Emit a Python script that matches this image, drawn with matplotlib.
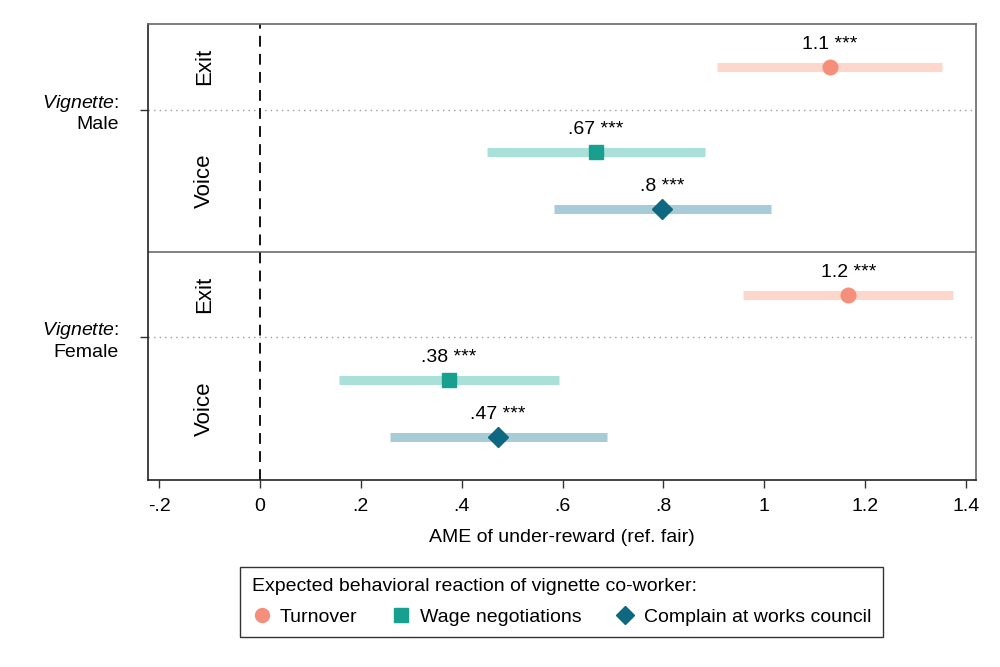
import matplotlib
matplotlib.use("Agg")
import matplotlib.pyplot as plt
from matplotlib.lines import Line2D

plt.rcParams['font.family'] = ['Liberation Sans', 'DejaVu Sans']
plt.rcParams['mathtext.fontset'] = 'custom'
plt.rcParams['mathtext.rm'] = 'Liberation Sans'
plt.rcParams['mathtext.it'] = 'Liberation Sans:italic'

# ---- data ----
groups = ["Male", "Female"]
series = ["Turnover", "Wage negotiations", "Complain at works council"]
est_male = [1.13, 0.666, 0.798]
lo_male = [0.906, 0.451, 0.584]
hi_male = [1.353, 0.882, 1.014]
est_female = [1.167, 0.375, 0.472]
lo_female = [0.958, 0.157, 0.258]
hi_female = [1.375, 0.593, 0.688]
labels_male = ["1.1", ".67", ".8"]
labels_female = ["1.2", ".38", ".47"]
stars = "***"
xticks = [-0.2, 0, 0.2, 0.4, 0.6, 0.8, 1.0, 1.2, 1.4]
xticklabels = ["-.2", "0", ".2", ".4", ".6", ".8", "1", "1.2", "1.4"]

marker_colors = ["#f58f7b", "#17a08d", "#0e6882"]
ci_colors = ["#fdd6cc", "#a9e0d8", "#a7ccd7"]
markers = ["o", "s", "D"]
msizes = [10.5, 10.5, 10]

row_pos = [0.0, 1.5, 2.5]
group_offset = [0.0, 4.0]

FS = 14

fig = plt.figure(figsize=(10, 6.67), dpi=100)
ax = fig.add_axes([0.148, 0.2804, 0.828, 0.6836])

data = [(est_male, lo_male, hi_male, labels_male),
        (est_female, lo_female, hi_female, labels_female)]

for g, (est, lo, hi, labs) in enumerate(data):
    for i in range(3):
        y = row_pos[i] + group_offset[g]
        ax.plot([lo[i], hi[i]], [y, y], color=ci_colors[i], lw=6.5,
                solid_capstyle='butt', zorder=2)
        ax.plot(est[i], y, marker=markers[i], color=marker_colors[i],
                ms=msizes[i], mec=marker_colors[i], zorder=3)
        ax.annotate(f"{labs[i]} {stars}", (est[i], y), xytext=(0, 10),
                    textcoords='offset points', ha='center', va='bottom',
                    fontsize=FS)

# group separators
ax.axhline(3.25, color='#777777', lw=1.3, zorder=1)
for off in group_offset:
    ax.axhline(off + 0.75, color='#999999', lw=1.0, ls=(0, (1, 3)), zorder=1)
    ax.text(-0.11, off + 0.0, "Exit", rotation=90, ha='center', va='center',
            fontsize=16)
    ax.text(-0.11, off + 2.0, "Voice", rotation=90, ha='center', va='center',
            fontsize=16)

ax.axvline(0, color='black', lw=1.3, ls=(0, (6, 4)), zorder=1)

ax.set_xlim(-0.222, 1.42)
ax.set_ylim(7.25, -0.75)
ax.set_xticks(xticks)
ax.set_xticklabels(xticklabels, fontsize=FS)
ax.set_yticks([0.75, 4.75])
ax.set_yticklabels([r"$\it{Vignette}$:" + "\n" + g for g in groups],
                   fontsize=FS, ha='right', multialignment='right')
ax.tick_params(axis='both', length=6, width=1.0, color='#333333')
ax.tick_params(axis='x', pad=7)
ax.tick_params(axis='y', pad=15)
ax.set_xlabel("AME of under-reward (ref. fair)", fontsize=FS, labelpad=10)

for s in ['left', 'bottom']:
    ax.spines[s].set_color('#222222')
    ax.spines[s].set_linewidth(1.2)
for s in ['top', 'right']:
    ax.spines[s].set_color('#666666')
    ax.spines[s].set_linewidth(1.2)

handles = [Line2D([], [], marker=markers[i], color=marker_colors[i], ls='none',
                  ms=msizes[i] - 0.5) for i in range(3)]
leg = fig.legend(handles, series, loc='center', bbox_to_anchor=(0.5615, 0.0975),
                 ncol=3, title="Expected behavioral reaction of vignette co-worker:",
                 title_fontsize=FS, fontsize=FS, frameon=True, fancybox=False,
                 edgecolor='black', handletextpad=0.45, columnspacing=1.75,
                 handlelength=1.0, borderpad=0.6, labelspacing=0.4,
                 alignment='left')
leg.get_title().set_linespacing(1.0)
leg._legend_box.sep = 9
leg.get_frame().set_linewidth(1.0)

fig.savefig("out.png", dpi=100)
